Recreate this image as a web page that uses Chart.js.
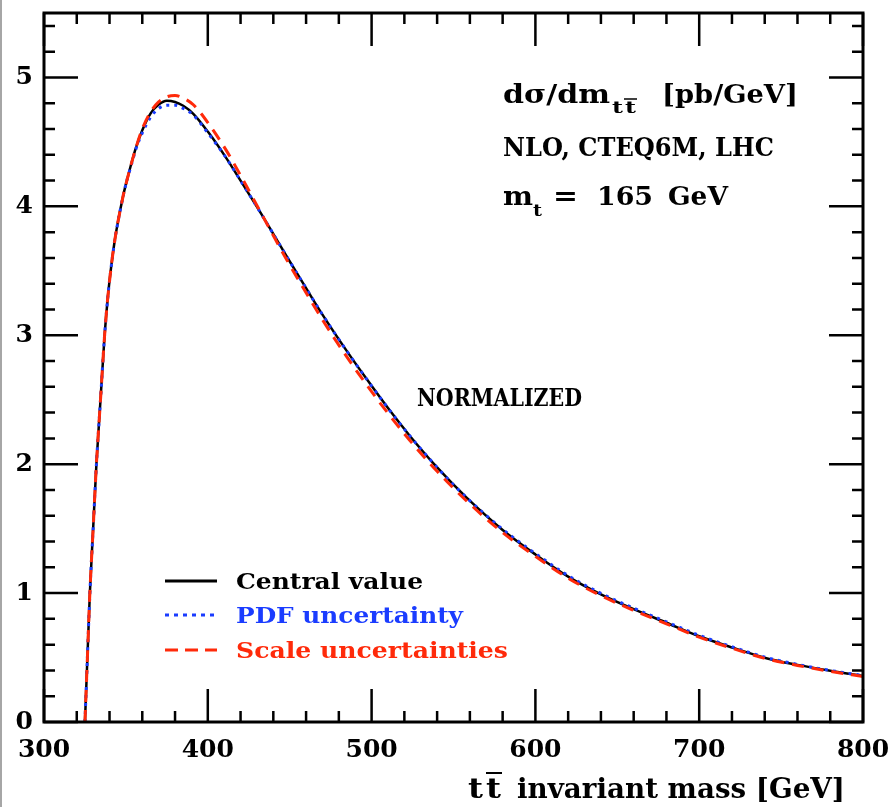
<!DOCTYPE html>
<html>
<head>
<meta charset="utf-8">
<script src="https://cdn.jsdelivr.net/npm/chart.js@4.4.0/dist/chart.umd.min.js"></script>
<style>
html,body{margin:0;padding:0;background:#fff;}
#caja{width:894px;height:807px;position:relative;}
</style>
</head>
<body>
<div id="caja"><canvas id="grafica" width="894" height="807"></canvas></div>
<script>
// masa invariante tt [GeV]
var masas = [325, 326.5, 328, 330, 332, 334.5, 337, 339, 341, 343, 345, 347, 349, 351, 353.5, 356, 360, 365, 370, 375, 380, 385, 391, 400, 411, 420, 432, 448, 460, 470, 485, 497, 510, 523, 540, 558, 580, 600, 621, 640, 660, 680, 700, 720, 741, 760, 780, 800];
// d sigma / d m  [pb/GeV], normalizado
var valorCentral = [0, 0.5, 1.0, 1.5, 2.0, 2.5, 3.0, 3.3, 3.53, 3.72, 3.87, 4.0, 4.12, 4.22, 4.34, 4.45, 4.59, 4.72, 4.79, 4.82, 4.81, 4.78, 4.72, 4.58, 4.38, 4.2, 3.955, 3.615, 3.365, 3.16, 2.875, 2.66, 2.435, 2.225, 1.975, 1.74, 1.49, 1.30, 1.12, 0.99, 0.875, 0.77, 0.665, 0.578, 0.495, 0.443, 0.397, 0.357];
var incertPDF = [0, 0.5, 1.0, 1.5, 2.0, 2.5, 3.0, 3.3, 3.53, 3.72, 3.87, 4.0, 4.12, 4.22, 4.33, 4.44, 4.57, 4.69, 4.76, 4.785, 4.785, 4.76, 4.71, 4.57, 4.38, 4.2, 3.955, 3.615, 3.365, 3.16, 2.875, 2.66, 2.435, 2.225, 1.975, 1.74, 1.495, 1.307, 1.128, 0.998, 0.883, 0.777, 0.672, 0.584, 0.5, 0.447, 0.4, 0.36];
var incertEscala = [0, 0.5, 1.0, 1.5, 2.0, 2.5, 3.0, 3.3, 3.53, 3.72, 3.87, 4.0, 4.12, 4.22, 4.34, 4.45, 4.6, 4.73, 4.81, 4.85, 4.86, 4.84, 4.79, 4.65, 4.44, 4.24, 3.96, 3.59, 3.33, 3.12, 2.83, 2.615, 2.395, 2.19, 1.945, 1.715, 1.47, 1.285, 1.108, 0.98, 0.866, 0.762, 0.658, 0.572, 0.49, 0.439, 0.393, 0.353];

var etiquetasX = ['300', '400', '500', '600', '700', '800'];
var etiquetasY = ['0', '1', '2', '3', '4', '5'];
var nombresSeries = ['Central value', 'PDF uncertainty', 'Scale uncertainties'];

var NEGRO = '#000000';
var AZUL = '#1a3cff';
var ROJO = '#ff2a0a';
var FUENTE = '"DejaVu Serif", serif';

function puntos(ys){
	return masas.map(function(m, i){ return {x: m, y: ys[i]}; });
}

// texto ajustado a un ancho dado
function texto(c, str, x, y, size, ancho){
	c.font = 'bold ' + size + 'px ' + FUENTE;
	var w = c.measureText(str).width;
	c.save();
	c.translate(x, y);
	c.scale(ancho / w, 1);
	c.fillText(str, 0, 0);
	c.restore();
}

function raya(c, x1, x2, y, grosor){
	c.lineWidth = grosor;
	c.beginPath(); c.moveTo(x1, y); c.lineTo(x2, y); c.stroke();
}

// marco, ticks hacia dentro y textos
var marco = {
	id: 'marco',
	afterDatasetsDraw: function(chart){
		var c = chart.ctx;
		var a = chart.chartArea;
		var sx = chart.scales.x;
		var sy = chart.scales.y;
		c.save();
		c.strokeStyle = NEGRO;
		c.lineWidth = 2.5;
		c.setLineDash([]);
		c.beginPath();
		for (var i = 0; i <= 25; i++) {
			var px = sx.getPixelForValue(300 + i * 20);
			var largo = (i % 5 == 0) ? 33 : 11;
			c.moveTo(px, a.bottom); c.lineTo(px, a.bottom - largo);
			c.moveTo(px, a.top); c.lineTo(px, a.top + largo);
		}
		for (var j = 0; j <= 27; j++) {
			var py = sy.getPixelForValue(j * 0.2);
			var largo2 = (j % 5 == 0) ? 34 : 11;
			c.moveTo(a.left, py); c.lineTo(a.left + largo2, py);
			c.moveTo(a.right, py); c.lineTo(a.right - largo2, py);
		}
		c.stroke();
		c.lineWidth = 3;
		c.strokeRect(a.left, a.top, a.right - a.left, a.bottom - a.top);

		// borde gris de la captura
		c.strokeStyle = '#888';
		c.beginPath(); c.lineWidth = 1.5; c.moveTo(1, 0); c.lineTo(1, 807); c.stroke();

		// textos de la esquina
		c.fillStyle = NEGRO;
		c.strokeStyle = NEGRO;
		c.textBaseline = 'alphabetic';
		c.textAlign = 'left';
		texto(c, 'd\u03c3/dm', 503, 103, 26, 107);
		texto(c, 't', 612, 113, 17, 11);
		texto(c, 't', 625, 113, 17, 11);
		raya(c, 624, 637, 99, 1.5);
		texto(c, '[pb/GeV]', 662, 103, 26, 136);
		texto(c, 'NLO, CTEQ6M, LHC', 503, 156, 26, 271);
		texto(c, 'm', 503, 205, 26, 30);
		texto(c, 't', 533, 216, 17, 9);
		texto(c, '=', 553, 205, 26, 25);
		texto(c, '165', 597, 205, 26, 56);
		texto(c, 'GeV', 668, 205, 26, 60);

		texto(c, 'NORMALIZED', 417, 406, 25, 165);

		// leyenda
		var colores = [NEGRO, AZUL, ROJO];
		var rayas = [[], [4, 5], [13, 7]];
		var yl = [581, 615, 650];
		var anchos = [187, 227, 272];
		for (var k = 0; k < 3; k++) {
			c.strokeStyle = colores[k];
			c.setLineDash(rayas[k]);
			raya(c, 165, 217, yl[k], 3);
			c.fillStyle = colores[k];
			texto(c, nombresSeries[k], 236, yl[k] + 8, 23, anchos[k]);
		}
		c.setLineDash([]);

		// titulo eje x
		c.fillStyle = NEGRO;
		c.strokeStyle = NEGRO;
		texto(c, 't', 468, 798, 28, 15);
		texto(c, 't', 486, 798, 28, 15);
		raya(c, 486, 502, 773, 2);
		texto(c, 'invariant mass [GeV]', 517, 798, 28, 328);
		c.restore();
	}
};

var ctx = document.getElementById('grafica').getContext('2d');
var grafica = new Chart(ctx, {
	type: 'line',
	data: {
		datasets: [
			{
				label: nombresSeries[0],
				data: puntos(valorCentral),
				borderColor: NEGRO,
				borderWidth: 2.5,
				pointRadius: 0,
				cubicInterpolationMode: 'monotone',
				order: 3,
			},
			{
				label: nombresSeries[1],
				data: puntos(incertPDF),
				borderColor: AZUL,
				borderWidth: 3,
				borderDash: [3, 5],
				pointRadius: 0,
				cubicInterpolationMode: 'monotone',
				order: 2,
			},
			{
				label: nombresSeries[2],
				data: puntos(incertEscala),
				borderColor: ROJO,
				borderWidth: 3,
				borderDash: [12, 8],
				pointRadius: 0,
				cubicInterpolationMode: 'monotone',
				order: 1,
			},
		],
	},
	options: {
		responsive: false,
		animation: false,
		devicePixelRatio: 1,
		layout: { padding: { left: 10, top: 13, right: 31, bottom: 0 } },
		plugins: {
			legend: { display: false },
			tooltip: { enabled: false },
		},
		scales: {
			x: {
				type: 'linear',
				min: 300,
				max: 800,
				grid: { display: false, drawTicks: false },
				border: { display: false },
				afterFit: function(s){ s.height = 85; s.paddingLeft = 0; s.paddingRight = 0; },
				ticks: {
					stepSize: 100,
					color: 'black',
					padding: 13,
					maxRotation: 0,
					font: { family: FUENTE, size: 25, weight: 'bold' },
					callback: function(v){ return etiquetasX[(v - 300) / 100]; },
				},
			},
			y: {
				min: 0,
				max: 5.5,
				grid: { display: false, drawTicks: false },
				border: { display: false },
				afterFit: function(s){ s.width = 34; s.paddingTop = 0; s.paddingBottom = 0; },
				ticks: {
					stepSize: 1,
					includeBounds: false,
					color: 'black',
					padding: 11,
					font: { family: FUENTE, size: 25, weight: 'bold' },
					callback: function(v){ return etiquetasY[v]; },
				},
			},
		},
	},
	plugins: [marco],
});
</script>
</body>
</html>
